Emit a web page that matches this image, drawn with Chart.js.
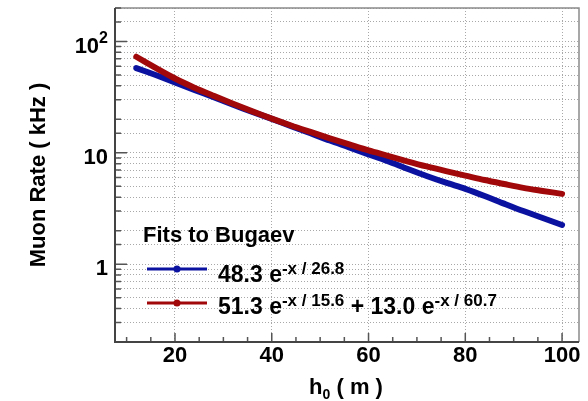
<!DOCTYPE html>
<html>
<head>
<meta charset="utf-8">
<script src="https://cdn.jsdelivr.net/npm/chart.js@4.4.1/dist/chart.umd.min.js"></script>
<style>
  html, body { margin: 0; padding: 0; background: #fff; }
</style>
</head>
<body>
<canvas id="muonChart" width="588" height="401"></canvas>
<script>
// depth h0 (m) and muon rate (kHz)
const depths = [12, 16, 20, 24, 28, 32, 36, 40, 44, 48, 52, 56, 60, 64, 68, 72, 76, 80, 84, 88, 92, 96, 100];
const singleExpRate = [57.7, 50.0, 43.0, 36.8, 31.6, 27.1, 23.3, 20.2, 17.4, 15.0, 12.9, 11.2, 9.7, 8.4, 7.2, 6.2, 5.4, 4.75, 4.1, 3.5, 3.0, 2.6, 2.25];
const doubleExpRate = [73.0, 58.0, 46.5, 38.5, 32.5, 27.6, 23.6, 20.3, 17.6, 15.4, 13.5, 11.9, 10.5, 9.4, 8.4, 7.55, 6.85, 6.25, 5.7, 5.25, 4.85, 4.55, 4.28];
const xTicks = [20, 40, 60, 80, 100];
const yLabelTicks = [1, 10, 100];
// base and exponent of each y label (ROOT style 10^2)
const yLabelBase = ['1', '10', '10'];
const yLabelExp = ['', '', '2'];

const FONT = '"Liberation Sans", Arial, Helvetica, sans-serif';
const blue = 'rgb(12, 18, 160)';
const red = 'rgb(160, 8, 10)';

function drawRuns(ctx, x, y, runs) {
    runs.forEach(r => {
        ctx.font = 'bold ' + r.size + 'px ' + FONT;
        ctx.fillText(r.text, x, y + (r.shift || 0));
        x += ctx.measureText(r.text).width;
    });
    return x;
}

function runsWidth(ctx, runs) {
    let w = 0;
    runs.forEach(r => {
        ctx.font = 'bold ' + r.size + 'px ' + FONT;
        w += ctx.measureText(r.text).width;
    });
    return w;
}

const rootDecorations = {
    id: 'rootDecorations',
    afterDraw(chart) {
        const ctx = chart.ctx;
        const area = chart.chartArea;
        const xs = chart.scales.x;
        const ys = chart.scales.y;
        ctx.save();

        // top / right frame (light)
        ctx.strokeStyle = '#8a8a8a';
        ctx.lineWidth = 1.5;
        ctx.beginPath();
        ctx.moveTo(area.left, area.top);
        ctx.lineTo(area.right, area.top);
        ctx.lineTo(area.right, area.bottom);
        ctx.stroke();

        // inward tick marks
        ctx.strokeStyle = '#555';
        ctx.lineWidth = 1.5;
        ctx.beginPath();
        for (let v = 10; v <= 100; v += 5) {
            const px = xs.getPixelForValue(v);
            const len = xTicks.includes(v) ? 9 : 5;
            ctx.moveTo(px, area.bottom);
            ctx.lineTo(px, area.bottom - len);
        }
        ys.ticks.forEach(t => {
            const py = ys.getPixelForValue(t.value);
            const lg = Math.log10(t.value);
            const len = Math.abs(lg - Math.round(lg)) < 1e-6 ? 12 : 6;
            ctx.moveTo(area.left, py);
            ctx.lineTo(area.left + len, py);
        });
        ctx.stroke();

        // left / bottom axes (dark)
        ctx.strokeStyle = '#444';
        ctx.lineWidth = 2;
        ctx.beginPath();
        ctx.moveTo(area.left, area.top);
        ctx.lineTo(area.left, area.bottom);
        ctx.lineTo(area.right, area.bottom);
        ctx.stroke();

        ctx.fillStyle = '#000';
        ctx.textBaseline = 'alphabetic';

        // y tick labels with superscript exponent
        yLabelTicks.forEach((v, i) => {
            const py = ys.getPixelForValue(v) + 11;
            ctx.font = 'bold 22px ' + FONT;
            const expRuns = yLabelExp[i] ? [{ text: yLabelExp[i], size: 16, shift: -10 }] : [];
            const runs = [{ text: yLabelBase[i], size: 22 }].concat(expRuns);
            ctx.textAlign = 'left';
            drawRuns(ctx, 108 - runsWidth(ctx, runs), py, runs);
        });

        ctx.textAlign = 'left';

        // axis titles
        const xTitle = [
            { text: 'h', size: 22 },
            { text: '0', size: 14, shift: 5 },
            { text: ' ( m )', size: 22 }
        ];
        drawRuns(ctx, 346 - runsWidth(ctx, xTitle) / 2, 394, xTitle);

        ctx.save();
        ctx.translate(45, 175);
        ctx.rotate(-Math.PI / 2);
        ctx.textAlign = 'center';
        ctx.font = 'bold 22px ' + FONT;
        ctx.fillText('Muon Rate ( kHz )', 0, 0);
        ctx.restore();

        // legend
        ctx.font = 'bold 22px ' + FONT;
        ctx.fillText('Fits to Bugaev', 143, 242);

        const rows = [
            { color: blue, lineY: 269, base: 282, runs: [
                { text: '48.3 e', size: 23 },
                { text: '-x / 26.8', size: 17, shift: -8 }
            ] },
            { color: red, lineY: 303, base: 314, runs: [
                { text: '51.3 e', size: 23 },
                { text: '-x / 15.6', size: 17, shift: -8 },
                { text: ' + 13.0 e', size: 23 },
                { text: '-x / 60.7', size: 17, shift: -8 }
            ] }
        ];
        rows.forEach(r => {
            ctx.strokeStyle = r.color;
            ctx.fillStyle = r.color;
            ctx.lineWidth = 3;
            ctx.beginPath();
            ctx.moveTo(147, r.lineY);
            ctx.lineTo(207, r.lineY);
            ctx.stroke();
            ctx.beginPath();
            ctx.arc(177, r.lineY, 3.5, 0, Math.PI * 2);
            ctx.fill();
            ctx.fillStyle = '#000';
            drawRuns(ctx, 218, r.base, r.runs);
        });

        ctx.restore();
    }
};

const gridStyle = { color: '#a8a8a8', lineWidth: 1, drawTicks: false };

new Chart(document.getElementById('muonChart'), {
    type: 'line',
    data: {
        datasets: [
            {
                label: 'single exponential',
                data: depths.map((d, i) => ({ x: d, y: singleExpRate[i] })),
                borderColor: blue,
                borderWidth: 6,
                borderCapStyle: 'round',
                pointRadius: 0,
                tension: 0.3,
                order: 1
            },
            {
                label: 'double exponential',
                data: depths.map((d, i) => ({ x: d, y: doubleExpRate[i] })),
                borderColor: red,
                borderWidth: 6,
                borderCapStyle: 'round',
                pointRadius: 0,
                tension: 0.3,
                order: 0
            }
        ]
    },
    options: {
        responsive: false,
        animation: false,
        layout: { padding: { top: 8, right: 9, left: 0, bottom: 0 } },
        plugins: { legend: { display: false }, tooltip: { enabled: false } },
        scales: {
            x: {
                type: 'linear',
                min: 7.6,
                max: 103.5,
                afterBuildTicks: scale => { scale.ticks = xTicks.map(v => ({ value: v })); },
                afterFit: scale => {
                    scale.height = 59;
                    scale.paddingLeft = 0;
                    scale.paddingRight = 0;
                },
                grid: gridStyle,
                border: { display: false, dash: [1, 2] },
                ticks: {
                    color: '#000',
                    padding: 1,
                    maxRotation: 0,
                    font: { family: FONT, size: 22, weight: 'bold' }
                }
            },
            y: {
                type: 'logarithmic',
                min: 0.2,
                max: 200,
                afterFit: scale => {
                    scale.width = 115;
                    scale.paddingTop = 0;
                    scale.paddingBottom = 0;
                },
                grid: gridStyle,
                border: { display: false, dash: [1, 2] },
                ticks: {
                    display: false,
                    autoSkip: false
                }
            }
        }
    },
    plugins: [rootDecorations]
});
</script>
</body>
</html>
